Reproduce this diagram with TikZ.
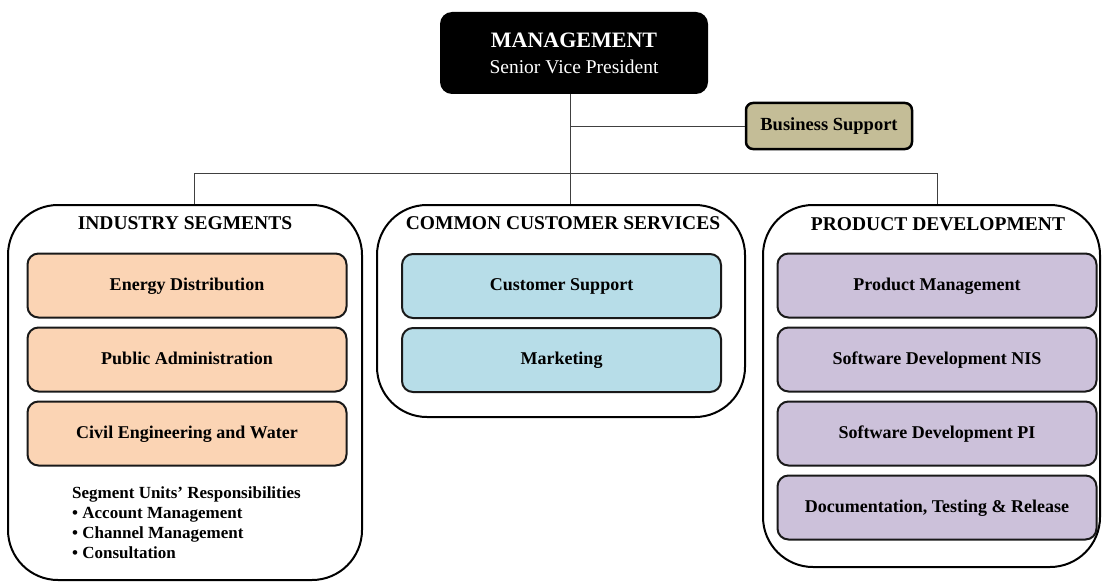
\documentclass[tikz,border=0pt]{standalone}
\usepackage{fontspec}
\setmainfont{Liberation Serif}
\usetikzlibrary{positioning}
\definecolor{seg_orange}{HTML}{FBD4B4}
\definecolor{ccs_blue}{HTML}{B7DDE8}
\definecolor{prod_purple}{HTML}{CCC1DA}
\definecolor{support_tan}{HTML}{C4BD97}
\tikzset{
  mgmtbox/.style={rectangle,fill=black,text=white,rounded corners=12pt,minimum width=268pt,minimum height=82pt,align=center,font=\fontsize{19.5}{26}\selectfont},
  supportbox/.style={rectangle,draw=black,line width=2.5pt,fill=support_tan,rounded corners=7pt,minimum width=166pt,minimum height=46pt,font=\fontsize{18.5}{20}\selectfont\bfseries},
  group/.style={rectangle,draw=black,line width=2pt,rounded corners=50pt},
  grouptitle/.style={inner sep=0pt,font=\fontsize{19.5}{22}\selectfont\bfseries},
  unit/.style={rectangle,draw=black!90,line width=2pt,rounded corners=11pt,minimum width=319pt,minimum height=64pt,text height=12pt,text depth=3pt,font=\fontsize{18}{20}\selectfont\bfseries},
  segunit/.style={unit,fill=seg_orange},
  ccsunit/.style={unit,fill=ccs_blue},
  produnit/.style={unit,fill=prod_purple},
  resp/.style={inner sep=0pt,align=left,font=\fontsize{17}{20}\selectfont\bfseries},
  link/.style={draw=black!75,line width=0.9pt},
}

\begin{document}
\begin{tikzpicture}[x=1pt,y=-1pt]
  \useasboundingbox (0,0) rectangle (1102,583);

  \node[mgmtbox] (mgmt) at (574,53) {{\fontsize{22}{26}\selectfont\bfseries MANAGEMENT}\\Senior Vice President};
  \node[supportbox] (bsup) at (829,126) {Business Support};

  \node[group,minimum width=354pt,minimum height=375pt] (ind) at (185,392.5) {};
  \node[group,minimum width=368pt,minimum height=212pt] (ccs) at (561,311) {};
  \node[group,minimum width=337pt,minimum height=362pt] (prod) at (931.5,386) {};

  \node[grouptitle] (indtitle) at (185,223) {INDUSTRY SEGMENTS};
  \node[grouptitle] (ccstitle) at (563,223) {COMMON CUSTOMER SERVICES};
  \node[grouptitle] (prodtitle) at (938,224) {PRODUCT DEVELOPMENT};

  \node[segunit] (energy) at (187,285.5) {Energy Distribution};
  \node[segunit,below=8pt of energy] (public) {Public Administration};
  \node[segunit,below=8pt of public] (civil) {Civil Engineering and Water};
  \node[resp,anchor=north west] (respons) at (72,486) {Segment Units' Responsibilities\\
    • Account Management\\
    • Channel Management\\
    • Consultation};

  \node[ccsunit] (custsup) at (561.5,286) {Customer Support};
  \node[ccsunit,below=8pt of custsup] (marketing) {Marketing};

  \node[produnit] (prodmgmt) at (937,285.5) {Product Management};
  \node[produnit,below=8pt of prodmgmt] (swnis) {Software Development NIS};
  \node[produnit,below=8pt of swnis] (swpi) {Software Development PI};
  \node[produnit,below=8pt of swpi] (doctest) {Documentation, Testing \& Release};

  \coordinate (busL) at (194,173);
  \coordinate (busM) at (570,173);
  \coordinate (busR) at (937,173);
  \draw[link] (mgmt.south -| busM) -- (busM);
  \draw[link] (busM |- bsup) -- (bsup.west);
  \draw[link] (busL |- ind.north) -- (busL) -- (busR) -- (busR |- prod.north);
  \draw[link] (busM) -- (busM |- ccs.north);
\end{tikzpicture}
\end{document}
